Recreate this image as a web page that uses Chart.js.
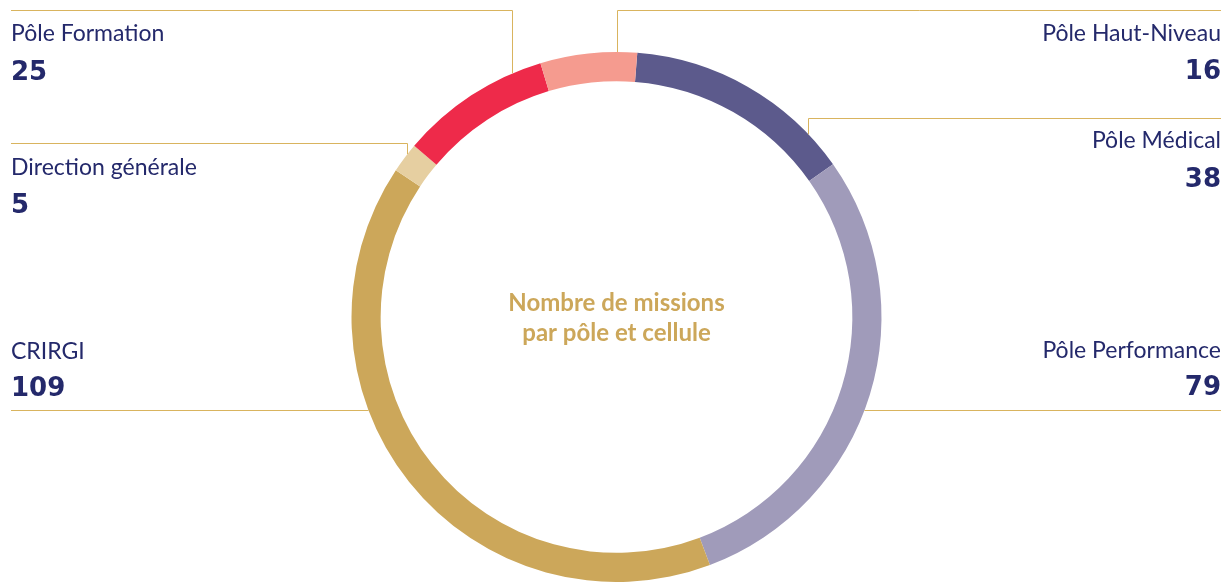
<!DOCTYPE html>
<html>
<head>
<meta charset="utf-8">
<script src="https://cdn.jsdelivr.net/npm/chart.js@4"></script>
<style>
  html, body { margin: 0; padding: 0; background: #fff; }
  #wrap { width: 1224px; height: 582px; position: relative; }
</style>
</head>
<body>
<div id="wrap"><canvas id="missions"></canvas></div>
<script>
// Nombre de missions par pôle et cellule

const poles = ['Pôle Médical', 'Pôle Performance', 'CRIRGI', 'Direction générale', 'Pôle Formation', 'Pôle Haut-Niveau'];
const missions = [38, 79, 109, 5, 25, 16];
const couleurs = ['#5c5a8c', '#a09bba', '#cca75a', '#e6cfa1', '#ee2a4a', '#f59b8f'];

const navy = '#24296b';
const gold = '#cca75a';
const leader = '#d9b45e';

// where each label sits and how its leader line reaches the ring
const callouts = [
  { i: 4, side: 'left',  lineY: 10,  textY: 34,  numY: 73,  anchorX: 512 },
  { i: 3, side: 'left',  lineY: 143, textY: 168, numY: 206, anchorX: 407 },
  { i: 2, side: 'left',  lineY: 410, textY: 352, numY: 389 },
  { i: 5, side: 'right', lineY: 10,  textY: 34,  numY: 72,  anchorX: 617 },
  { i: 0, side: 'right', lineY: 118, textY: 141, numY: 180, anchorX: 808 },
  { i: 1, side: 'right', lineY: 410, textY: 351, numY: 388 }
];

const calloutPlugin = {
  id: 'callouts',
  afterDraw(chart) {
    const ctx = chart.ctx;
    const arc = chart.getDatasetMeta(0).data[0];
    const cx = arc.x, cy = arc.y, r = arc.outerRadius;
    const L = 11, R = 1221;
    ctx.save();
    ctx.strokeStyle = leader;
    ctx.lineWidth = 1;
    callouts.forEach(c => {
      ctx.beginPath();
      const y = c.lineY + 0.5;
      if (c.anchorX !== undefined) {
        const ax = c.anchorX + 0.5;
        const ay = cy - Math.sqrt(r * r - (ax - cx) * (ax - cx));
        if (c.side === 'left') { ctx.moveTo(L, y); ctx.lineTo(ax, y); }
        else { ctx.moveTo(R, y); ctx.lineTo(ax, y); }
        ctx.lineTo(ax, ay);
      } else {
        const dx = Math.sqrt(r * r - (y - cy) * (y - cy));
        if (c.side === 'left') { ctx.moveTo(L, y); ctx.lineTo(cx - dx, y); }
        else { ctx.moveTo(R, y); ctx.lineTo(cx + dx, y); }
      }
      ctx.stroke();

      ctx.fillStyle = navy;
      ctx.textBaseline = 'middle';
      ctx.textAlign = c.side === 'left' ? 'left' : 'right';
      const tx = c.side === 'left' ? L : R;
      ctx.font = '23px Lato';
      ctx.fillText(poles[c.i], tx, c.textY);
      ctx.font = 'bold 26px "DejaVu Sans"';
      ctx.fillText(String(missions[c.i]), tx, c.numY);
    });

    ctx.fillStyle = gold;
    ctx.textAlign = 'center';
    ctx.textBaseline = 'middle';
    ctx.font = 'bold 24px Lato';
    ctx.fillText('Nombre de missions', cx, 303);
    ctx.fillText('par pôle et cellule', cx, 333);
    ctx.restore();
  }
};

const data1 = {
  labels: poles,
  datasets: [{
    data: missions,
    backgroundColor: couleurs,
    borderWidth: 0
  }]
};

const config1 = {
  type: 'doughnut',
  data: data1,
  options: {
    responsive: false,
    animation: false,
    rotation: 4.5,
    cutout: '89%',
    layout: { padding: { top: 52, bottom: 0, left: 9, right: 0 } },
    plugins: {
      legend: { display: false },
      tooltip: { enabled: false }
    }
  },
  plugins: [calloutPlugin]
};

const canvas = document.getElementById('missions');
canvas.width = 1224;
canvas.height = 582;
const myChart = new Chart(canvas, config1);
</script>
</body>
</html>
